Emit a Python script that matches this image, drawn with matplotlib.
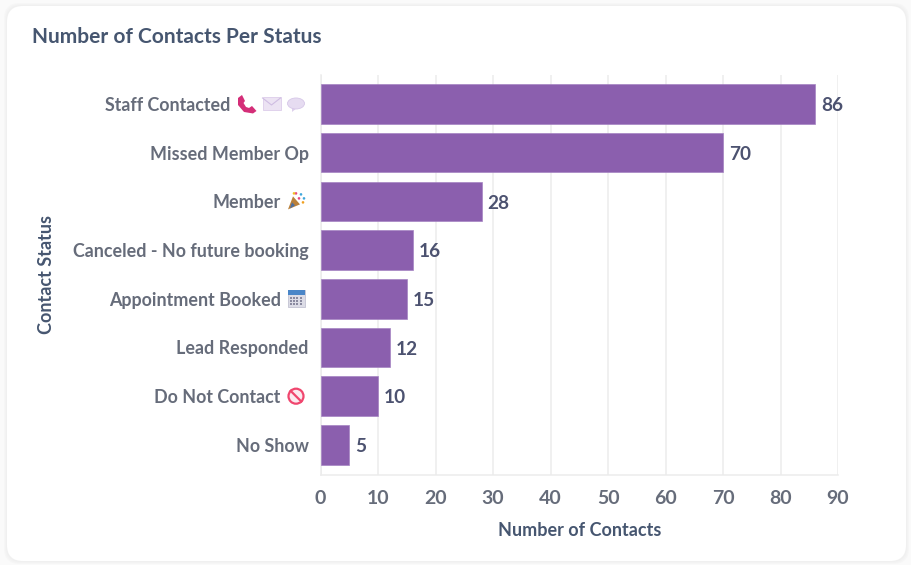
import matplotlib
matplotlib.use("Agg")
import matplotlib.pyplot as plt
from matplotlib.patches import FancyBboxPatch, Rectangle, Circle, Ellipse, Polygon

categories = ["Staff Contacted", "Missed Member Op", "Member", "Canceled - No future booking",
              "Appointment Booked", "Lead Responded", "Do Not Contact", "No Show"]
values = [86, 70, 28, 16, 15, 12, 10, 5]
icons = [["phone", "mail", "speech"], [], ["party"], [], ["calendar"], [], ["noentry"], []]
xticks = [0, 10, 20, 30, 40, 50, 60, 70, 80, 90]
title = "Number of Contacts Per Status"
xlabel = "Number of Contacts"
ylabel = "Contact Status"

W, H = 911, 565
plt.rcParams["font.family"] = ["Lato", "DejaVu Sans"]
fig = plt.figure(figsize=(W / 100, H / 100), dpi=100, facecolor="#fafafa")

bg = fig.add_axes([0, 0, 1, 1], zorder=0)
bg.set_xlim(0, W); bg.set_ylim(H, 0); bg.axis("off")
for grow, col in [(3, "#f6f6f6"), (2, "#f3f3f3"), (1, "#f0f0f0")]:
    bg.add_patch(FancyBboxPatch((7 - grow + 16, 6 - grow + 16), 899 + 2 * grow - 32, 555 + 2 * grow - 32,
                                boxstyle="round,pad=16,rounding_size=16", fc=col, ec="none"))
bg.add_patch(FancyBboxPatch((7 + 16, 6 + 16), 899 - 32, 555 - 32,
                            boxstyle="round,pad=16,rounding_size=16", fc="white", ec="none"))

L, R, T, B = 320.6, 838, 75, 475
ax = fig.add_axes([L / W, 1 - B / H, (R - L) / W, (B - T) / H], zorder=1)
ax.patch.set_alpha(0)
ypos = list(range(len(categories)))
ax.barh(ypos, values, height=0.81, color="#8b5fae", edgecolor="#a583c2", linewidth=0.5, zorder=3)
ax.set_xlim(0, 90)
ax.set_ylim(7.618, -0.595)
ax.set_xticks(xticks)
ax.set_yticks(ypos)
ax.set_yticklabels(categories)
ax.grid(axis="x", color="#ececec", linewidth=1.1, zorder=0)
for s in ["top", "right"]:
    ax.spines[s].set_visible(False)
for s in ["left", "bottom"]:
    ax.spines[s].set_color("#ececec"); ax.spines[s].set_linewidth(1.1)
ax.tick_params(axis="both", length=0)
ax.tick_params(axis="x", pad=10.8, labelsize=14, labelcolor="#666c7a")
ax.tick_params(axis="y", labelsize=12.85, labelcolor="#666c7a")
for tick, ic in zip(ax.yaxis.get_major_ticks(), icons):
    extra = 0
    if ic:
        extra = {"phone": 78, "party": 28, "calendar": 28, "noentry": 28}[ic[0]]
    tick.set_pad((12 + extra) * 0.72)
    tick.label1.set_fontweight("bold")
for t in ax.get_xticklabels():
    t.set_fontweight("bold")

for y, v in zip(ypos, values):
    ax.annotate(str(v), (v, y), xytext=(4.2, -1.2), textcoords="offset points", va="center", ha="left",
                fontsize=13.7, fontweight="bold", color="#4c5270", zorder=4)

fig.text(32 / W, 1 - 37 / H, title, fontsize=15, fontweight="bold", color="#465670", va="center", ha="left")
fig.text(580 / W, 1 - 530.5 / H, xlabel, fontsize=13, fontweight="bold", color="#465670", va="center", ha="center")
fig.text(46 / W, 1 - 275 / H, ylabel, fontsize=13, fontweight="bold", color="#465670", va="center", ha="center", rotation=90)

def py(i):
    return H - ax.transData.transform((0, i))[1]

ov = fig.add_axes([0, 0, 1, 1], zorder=2)
ov.set_xlim(0, W); ov.set_ylim(H, 0); ov.axis("off"); ov.patch.set_alpha(0)

def phone(cx, cy):
    verts = [(-9, -6), (-5, -9), (-2, -3), (-3.5, -1), (-1, 3), (2, 4), (5, 2), (9.5, 7), (6, 9.5), (-3, 8), (-9, 1), (-9, -6)]
    ov.add_patch(Polygon([(cx + a, cy + b) for a, b in verts], closed=True, fc="#d42e78", ec="none", joinstyle="round"))

def mail(cx, cy):
    ov.add_patch(Rectangle((cx - 9, cy - 6.5), 18, 13, fc="#ece3f3", ec="#dccdea", lw=0.6))
    ov.plot([cx - 9, cx, cx + 9], [cy - 6, cy + 1, cy - 6], color="#cfbde2", lw=0.8)

def speech(cx, cy):
    ov.add_patch(Polygon([(cx - 4, cy + 3), (cx - 4, cy + 8), (cx + 1, cy + 4)], fc="#ddd0ec", ec="none"))
    ov.add_patch(Ellipse((cx, cy - 0.5), 17, 11, fc="#e6dcf1", ec="#d6c7e8", lw=0.6))

def party(cx, cy):
    ov.add_patch(Polygon([(cx - 8, cy + 8), (cx - 3, cy - 5), (cx + 4, cy + 3)], fc="#b9803a", ec="none"))
    ov.add_patch(Polygon([(cx - 6, cy + 7), (cx - 4, cy + 1), (cx - 1, cy + 4)], fc="#4a6fa5", ec="none"))
    for dx, dy, c in [(0, -8, "#e8467c"), (5, -7, "#3fa7dc"), (8, -3, "#3fa7dc"), (3, -3, "#e8467c"), (7, 1, "#f0a020"), (-2, -8, "#f0c020")]:
        ov.add_patch(Circle((cx + dx, cy + dy), 1.3, fc=c, ec="none"))

def calendar(cx, cy):
    ov.add_patch(Rectangle((cx - 8.5, cy - 8.5), 17, 17, fc="#dcdce6", ec="#c3c3d2", lw=0.6))
    ov.add_patch(Rectangle((cx - 8.5, cy - 8.5), 17, 5, fc="#4a86c8", ec="none"))
    for r in range(3):
        for c in range(4):
            ov.add_patch(Rectangle((cx - 6 + c * 3.2, cy - 2 + r * 3), 2, 1.8, fc="#8a8aa0", ec="none"))

def noentry(cx, cy):
    ov.add_patch(Circle((cx, cy), 7.5, fc="#fbeaf0", ec="#f0466e", lw=1.6))
    ov.plot([cx - 5.3, cx + 5.3], [cy - 5.3, cy + 5.3], color="#f0466e", lw=1.6)

draw = {"phone": phone, "mail": mail, "speech": speech, "party": party, "calendar": calendar, "noentry": noentry}
icon_x = {"phone": 247, "mail": 271.5, "speech": 296, "party": 296, "calendar": 296, "noentry": 296}
for i, names in enumerate(icons):
    for n in names:
        draw[n](icon_x[n], py(i))

fig.savefig("out.png", dpi=100, facecolor=fig.get_facecolor())
